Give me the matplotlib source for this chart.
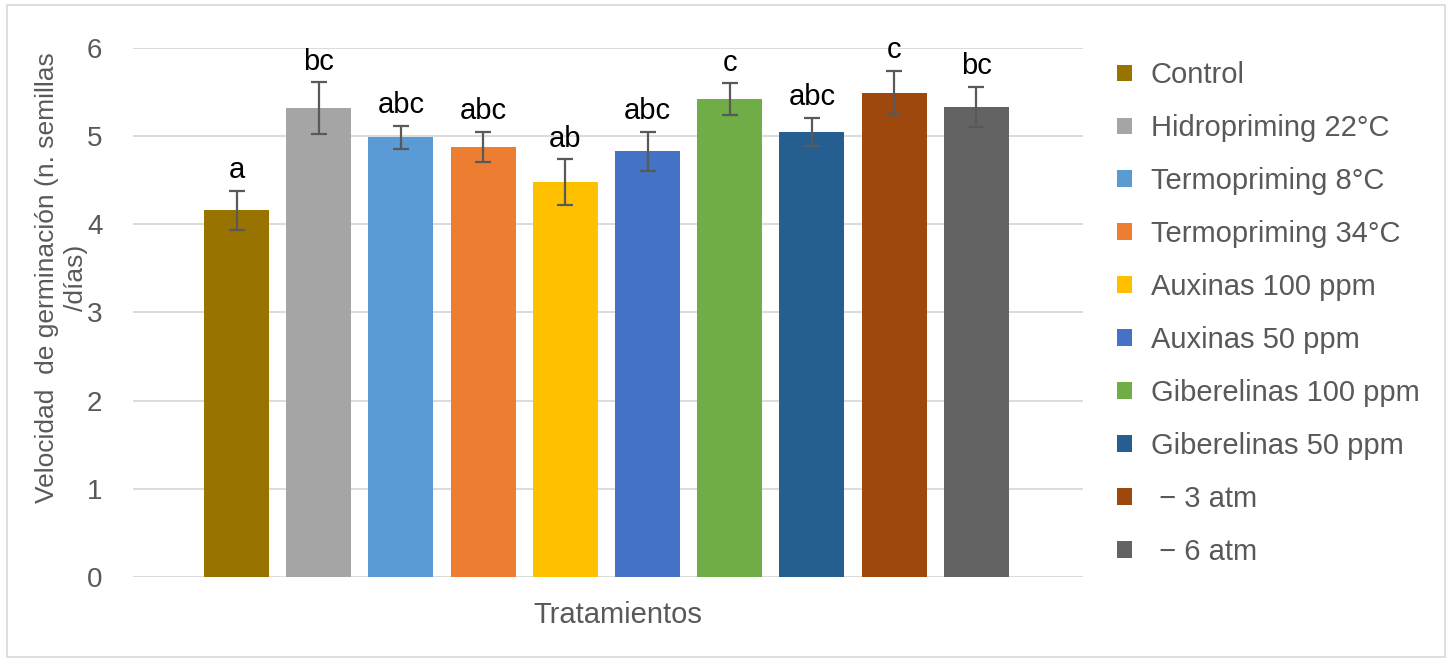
import matplotlib
matplotlib.use('Agg')
import matplotlib.pyplot as plt
from matplotlib.patches import Rectangle, Patch

plt.rcParams['font.family'] = ['Liberation Sans', 'DejaVu Sans']

# treatments, mean germination speed, error and significance letters
tratamientos = ['Control', 'Hidropriming 22°C', 'Termopriming 8°C', 'Termopriming 34°C',
                'Auxinas 100 ppm', 'Auxinas 50 ppm', 'Giberelinas 100 ppm',
                'Giberelinas 50 ppm', ' \u2212 3 atm', ' \u2212 6 atm']
velocidad = [4.16, 5.32, 4.99, 4.88, 4.48, 4.83, 5.42, 5.05, 5.49, 5.33]
error = [0.22, 0.29, 0.13, 0.17, 0.26, 0.22, 0.18, 0.16, 0.25, 0.23]
letras = ['a', 'bc', 'abc', 'abc', 'ab', 'abc', 'c', 'abc', 'c', 'bc']
colores = ['#997300', '#A5A5A5', '#5B9BD5', '#ED7D31', '#FFC000',
           '#4472C4', '#70AD47', '#255E91', '#9E480E', '#636363']

gris = '#595959'

fig = plt.figure(figsize=(14.52, 6.62), dpi=100)
ax = fig.add_axes([0.0916, 0.1284, 0.6544, 0.7991])

# frame round the whole chart
fig.patches.append(Rectangle((0.005, 0.008), 0.99, 0.984, transform=fig.transFigure,
                             fill=False, edgecolor='#d9d9d9', linewidth=1.2))

x = range(len(velocidad))
ax.bar(x, velocidad, width=0.79, color=colores, zorder=3)
ax.errorbar(x, velocidad, yerr=error, fmt='none', ecolor=gris, elinewidth=1.6,
            capsize=6, capthick=1.6, zorder=4)

# significance letters above each error bar
for xi, v, e, t in zip(x, velocidad, error, letras):
    ax.annotate(t, (xi, v + e), xytext=(0, 9), textcoords='offset points',
                ha='center', va='baseline', fontsize=21, color='black')

ax.set_ylim(0, 6)
ax.set_xlim(-1.26, 9 + 1.3)
ax.set_yticks(range(0, 7))
ax.set_xticks([])
ax.yaxis.grid(True, color='#d9d9d9', linewidth=1.3, zorder=0)
for s in ax.spines.values():
    s.set_visible(False)
ax.tick_params(axis='y', length=0, labelsize=20, labelcolor=gris, pad=22)

ax.set_ylabel('Velocidad  de germinación (n. semillas\n/días)', fontsize=19,
              color=gris, linespacing=1.3)
ax.yaxis.set_label_coords(-0.047, 0.565)
ax.set_xlabel('Tratamientos', fontsize=21, color=gris)
ax.xaxis.set_label_coords(0.51, -0.045)

handles = [Patch(facecolor=c, edgecolor='none') for c in colores]
fig.legend(handles, tratamientos, loc='upper left', bbox_to_anchor=(0.751, 0.947),
           frameon=False, fontsize=21, labelcolor=gris, handlelength=0.51,
           handleheight=0.51, handletextpad=0.65, labelspacing=0.855)

fig.savefig('out.png', dpi=100, facecolor='white')
